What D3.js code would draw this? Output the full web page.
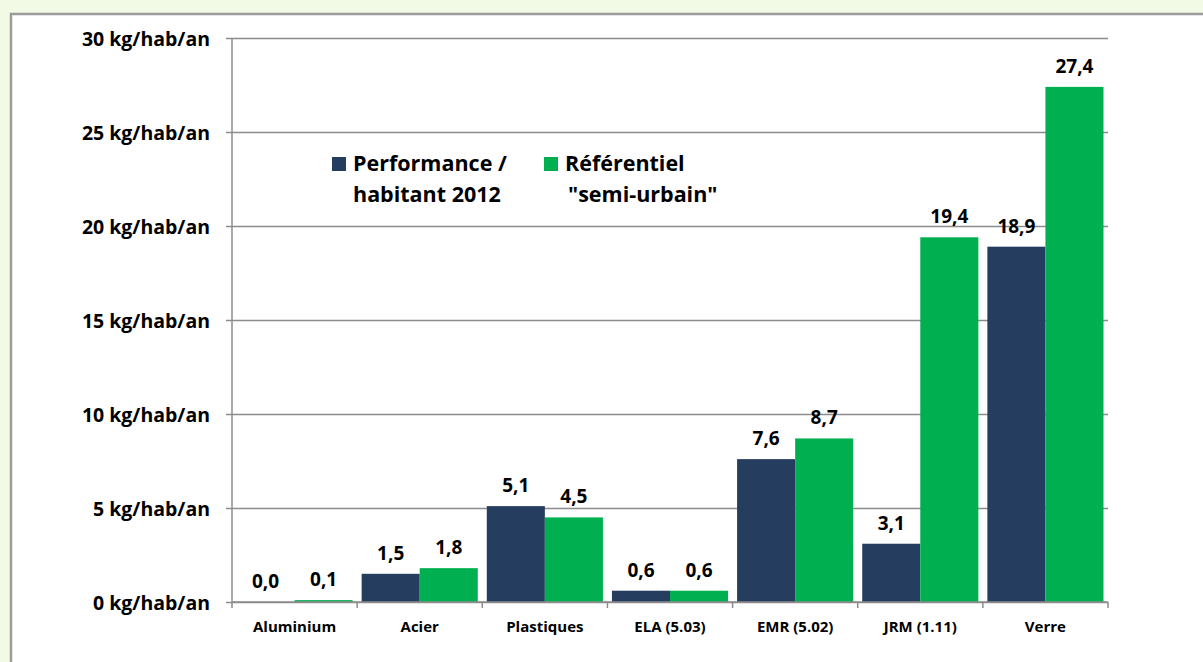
<!DOCTYPE html>
<html>
<head>
<meta charset="utf-8">
<script src="https://cdn.jsdelivr.net/npm/d3@7"></script>
<style>
  body { margin: 0; background: #F2F9E4; overflow: hidden; }
  text { font-family: "Open Sans", Lato, sans-serif; font-weight: 700; fill: #000; }
</style>
</head>
<body>
<div id="chart"></div>
<script>
// values (kg/hab/an)
const categories = ["Aluminium", "Acier", "Plastiques", "ELA (5.03)", "EMR (5.02)", "JRM (1.11)", "Verre"];
const performance = [0.0, 1.5, 5.1, 0.6, 7.6, 3.1, 18.9];
const referentiel = [0.1, 1.8, 4.5, 0.6, 8.7, 19.4, 27.4];
const seriesNames = ["Performance /\nhabitant 2012", "Référentiel\n\"semi-urbain\""];
const yTicks = [0, 5, 10, 15, 20, 25, 30];

const colors = ["#253D5F", "#00B050"];

let svg = d3.select("#chart").append("svg")
    .attr("width", 1203)
    .attr("height", 662);

// white frame of the chart
svg.append("rect")
    .attr("x", 11)
    .attr("y", 14)
    .attr("width", 1210)
    .attr("height", 700)
    .attr("fill", "#fff")
    .attr("stroke", "#9B9B9B")
    .attr("stroke-width", 2.5);

const plotL = 232, plotR = 1108, plotT = 38, plotB = 602;

let x = d3.scaleBand()
    .domain(categories)
    .range([plotL, plotR])
    .paddingInner(0.072)
    .paddingOuter(0.036);

let y = d3.scaleLinear()
    .domain([0, 30])
    .range([plotB, plotT]);

let xs = d3.scaleBand()
    .domain([0, 1])
    .range([0, x.bandwidth()]);

//gridlines + y ticks
let yAxis = d3.axisLeft(y)
    .tickValues(yTicks)
    .tickSize(-(plotR - plotL))
    .tickFormat(d => d + " kg/hab/an");

let gy = svg.append("g")
    .attr("transform", `translate(${plotL},0)`)
    .call(yAxis);
gy.select(".domain").remove();
gy.selectAll(".tick line")
    .attr("x1", -6)
    .attr("stroke", "#8C8C8C")
    .attr("stroke-width", 1.5);
gy.selectAll(".tick text")
    .attr("x", -22)
    .attr("dy", "0.36em")
    .style("font-size", "19.5px");

// y axis line
svg.append("line")
    .attr("x1", plotL).attr("x2", plotL)
    .attr("y1", plotT).attr("y2", plotB)
    .attr("stroke", "#8C8C8C")
    .attr("stroke-width", 1.5);

// bars
const series = [performance, referentiel];
series.forEach((vals, s) => {
    svg.selectAll(".bar-" + s)
        .data(vals)
        .enter()
        .append("rect")
        .attr("class", "bar-" + s)
        .attr("x", (d, i) => x(categories[i]) + xs(s))
        .attr("y", d => y(d))
        .attr("width", xs.bandwidth())
        .attr("height", d => y(0) - y(d))
        .attr("fill", colors[s]);

    svg.selectAll(".lbl-" + s)
        .data(vals)
        .enter()
        .append("text")
        .attr("class", "lbl-" + s)
        .attr("x", (d, i) => x(categories[i]) + xs(s) + xs.bandwidth() / 2)
        .attr("y", d => y(d) - 14)
        .attr("text-anchor", "middle")
        .style("font-size", "19px")
        .text(d => d3.format(".1f")(d).replace(".", ","));
});

// x axis
svg.append("line")
    .attr("x1", plotL).attr("x2", plotR)
    .attr("y1", plotB).attr("y2", plotB)
    .attr("stroke", "#8C8C8C")
    .attr("stroke-width", 1.5);

// category boundaries
const edges = d3.range(categories.length + 1).map(i => plotL + i * (plotR - plotL) / categories.length);
svg.selectAll(".xtick")
    .data(edges)
    .enter()
    .append("line")
    .attr("class", "xtick")
    .attr("x1", d => d).attr("x2", d => d)
    .attr("y1", plotB).attr("y2", plotB + 6)
    .attr("stroke", "#8C8C8C")
    .attr("stroke-width", 1.5);

svg.selectAll(".xlabel")
    .data(categories)
    .enter()
    .append("text")
    .attr("class", "xlabel")
    .attr("x", d => x(d) + x.bandwidth() / 2)
    .attr("y", 632)
    .attr("text-anchor", "middle")
    .style("font-size", "15px")
    .text(d => d);

// legend
const legendX = [332, 544];
seriesNames.forEach((name, s) => {
    svg.append("rect")
        .attr("x", legendX[s])
        .attr("y", 157)
        .attr("width", 14)
        .attr("height", 14)
        .attr("fill", colors[s]);
    let t = svg.append("text")
        .attr("x", legendX[s] + 21)
        .attr("y", 171)
        .style("font-size", "21.5px");
    name.split("\n").forEach((line, j) => {
        t.append("tspan")
            .attr("x", legendX[s] + 21 + (j == 1 && s == 1 ? 3 : 0))
            .attr("dy", j == 0 ? 0 : 31)
            .text(line);
    });
});
</script>
</body>
</html>
